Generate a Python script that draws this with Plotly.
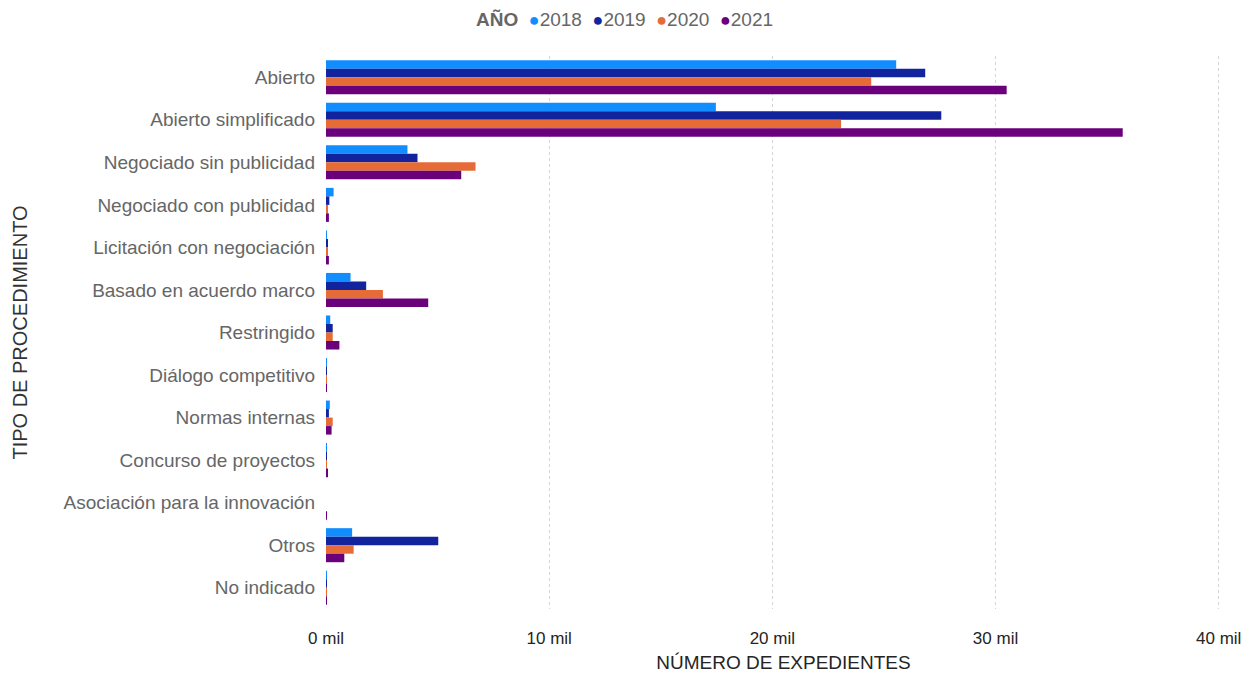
import plotly.graph_objects as go

categories = ["Abierto", "Abierto simplificado", "Negociado sin publicidad",
              "Negociado con publicidad", "Licitación con negociación",
              "Basado en acuerdo marco", "Restringido", "Diálogo competitivo",
              "Normas internas", "Concurso de proyectos",
              "Asociación para la innovación", "Otros", "No indicado"]

years = ["2018", "2019", "2020", "2021"]

v2018 = [25550, 17470, 3650, 340, 40, 1100, 190, 20, 170, 40, 0, 1170, 20]
v2019 = [26850, 27570, 4100, 150, 80, 1800, 300, 20, 130, 30, 0, 5030, 20]
v2020 = [24430, 23080, 6700, 80, 50, 2550, 300, 10, 300, 40, 0, 1240, 40]
v2021 = [30500, 35700, 6060, 130, 130, 4580, 600, 20, 250, 50, 30, 820, 30]

series = [v2018, v2019, v2020, v2021]
colors = ["#118DFF", "#12239E", "#E66C37", "#6B007B"]

tickvals = [0, 10000, 20000, 30000, 40000]
ticktext = ["0 mil", "10 mil", "20 mil", "30 mil", "40 mil"]

fig = go.Figure()
for yr, vals, col in zip(years, series, colors):
    fig.add_trace(go.Bar(y=categories, x=vals, orientation="h", name=yr,
                         marker=dict(color=col, line=dict(width=0)),
                         showlegend=False))

legend_text = "<b>AÑO</b>" + "".join(
    f"&nbsp;&nbsp;<span style='color:{c};font-size:18px'>●</span>{y}"
    for y, c in zip(years, colors))
fig.add_annotation(text=legend_text, xref="paper", yref="paper",
                   x=0.3257, y=1.0668, xanchor="center", yanchor="middle",
                   showarrow=False,
                   font=dict(family="Liberation Sans, Arial, sans-serif", size=19,
                             color="#666666"))

fig.update_layout(
    width=1257, height=676,
    margin=dict(l=326, r=16, t=56, b=67, autoexpand=False),
    paper_bgcolor="white", plot_bgcolor="white",
    barmode="group", bargap=0.2, bargroupgap=0,
    showlegend=False,
    font=dict(family="Liberation Sans, Arial, sans-serif", size=16, color="#666666"),
    xaxis=dict(range=[0, 41000], tickvals=tickvals, ticktext=ticktext,
               showgrid=True, gridcolor="#D4D4D4", griddash="dot", gridwidth=1,
               zeroline=False, showline=False, ticks="",
               ticklabelstandoff=17,
               tickfont=dict(family="Liberation Sans Narrow, Arial Narrow, sans-serif",
                             size=17, color="#252423"),
               title=dict(text="NÚMERO DE EXPEDIENTES", standoff=8,
                          font=dict(family="Liberation Sans Narrow, Arial Narrow, sans-serif",
                                    size=19, color="#252423"))),
    yaxis=dict(autorange="reversed", showgrid=False, zeroline=False,
               ticks="", ticklabelstandoff=10,
               tickfont=dict(size=19, color="#666666"),
               title=dict(text="TIPO DE PROCEDIMIENTO", standoff=30,
                          font=dict(size=20, color="#333333"))),
)

fig.write_html("out.html", post_script="document.body.style.margin='0';",
               config={"displayModeBar": False})
